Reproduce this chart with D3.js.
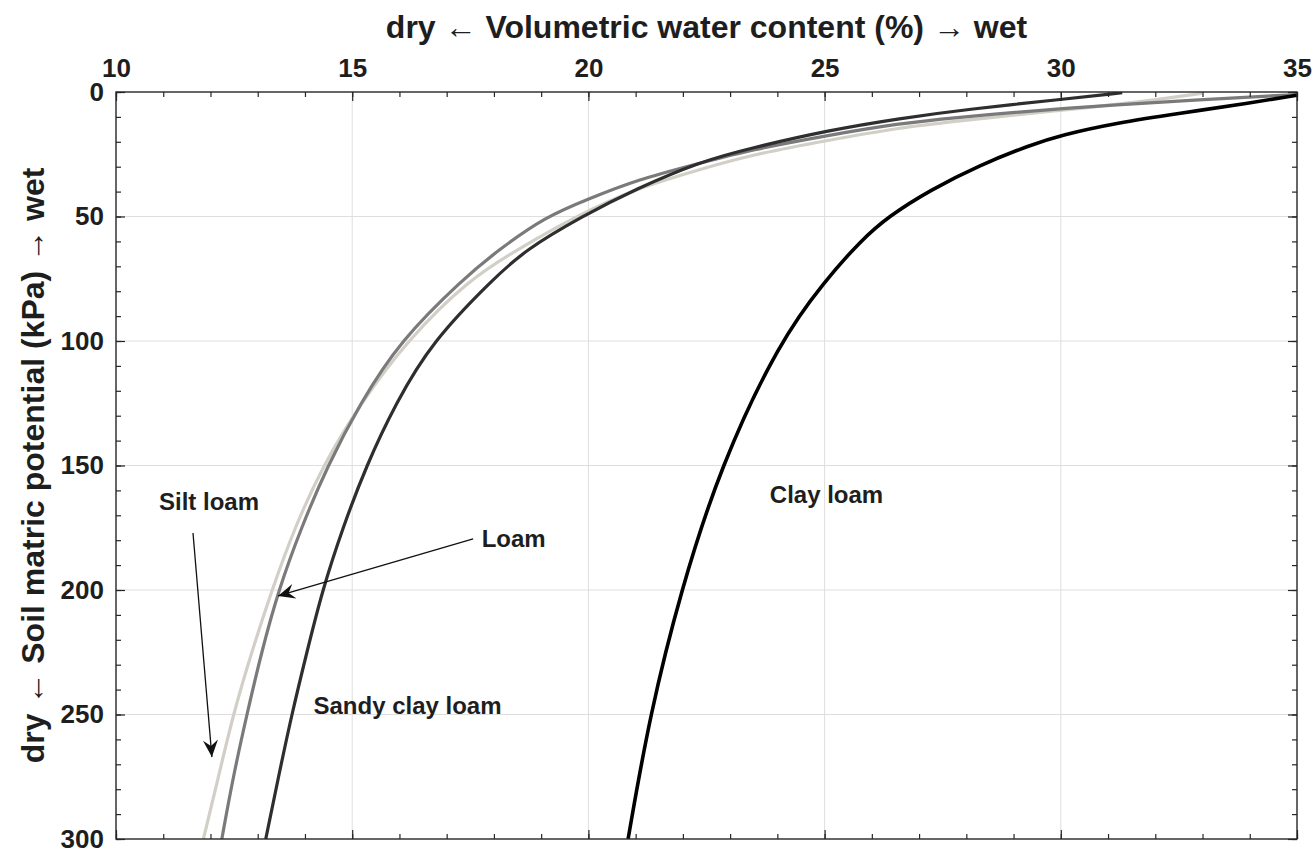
<!DOCTYPE html>
<html>
<head>
<meta charset="utf-8">
<script src="https://cdn.jsdelivr.net/npm/d3@7"></script>
<style>
  body { margin: 0; background: #fff; }
  text { font-family: "Liberation Sans", Arial, sans-serif; font-weight: bold; fill: #1e1e1e; }
  .grid line { stroke: #dedede; stroke-width: 1; }
  .axis path { display: none; }
  .axis line { stroke: #262626; stroke-width: 1.2; }
</style>
</head>
<body>
<svg id="chart"></svg>
<script>
// water content (%) and matric potential (kPa)
var siltLoamTheta = [11.85, 12.17, 12.48, 12.87, 13.30, 13.78, 14.38, 15.18, 16.15, 17.49, 18.48, 19.72, 21.02, 22.2, 23.42, 25.1, 26.6, 27.65, 30, 31.5, 33.0];
var siltLoamKPa   = [300, 275, 250, 225, 200, 175, 150, 125, 100, 75, 63.5, 50, 38.7, 32, 25.3, 19.3, 14.3, 12.0, 7.3, 4.5, 0.5];

var loamTheta = [12.24, 12.48, 12.77, 13.08, 13.44, 13.92, 14.48, 15.17, 16.01, 17.35, 18.09, 19.1, 20, 21.02, 22.36, 23.42, 25.1, 26.6, 27.65, 30, 33, 35];
var loamKPa   = [300, 275, 250, 225, 200, 175, 150, 125, 100, 75, 63.5, 50, 43.0, 35.3, 28.6, 23.3, 17.3, 12.6, 10.5, 6.5, 3.0, 1.0];

var sandyClayLoamTheta = [13.17, 13.44, 13.72, 14.04, 14.37, 14.80, 15.30, 15.92, 16.70, 17.99, 18.66, 19.86, 21.02, 22.36, 23.42, 25.1, 26.6, 28, 30, 31.3];
var sandyClayLoamKPa   = [300, 275, 250, 225, 200, 175, 150, 125, 100, 75, 63.5, 50, 38.8, 28, 22.6, 15.3, 10.6, 7.0, 3.0, 0.3];

var clayLoamTheta = [20.84, 21.30, 21.96, 22.8, 24.05, 25.0, 25.78, 26.35, 27.23, 28.29, 29.35, 30, 31.2, 32.5, 34, 35];
var clayLoamKPa   = [300, 250, 200, 150, 100, 76, 59.4, 50, 39.4, 29.3, 21.3, 17.3, 12.3, 8.6, 4.4, 1.3];

var soilNames  = ["Silt loam", "Loam", "Sandy clay loam", "Clay loam"];
var soilColors = ["#d2cfc7", "#7a7a7a", "#2e2e2e", "#000000"];

var xTicks = [10, 15, 20, 25, 30, 35];
var yTicks = [0, 50, 100, 150, 200, 250, 300];

// text labels and arrows, in data units
var labelTheta = [10.91, 17.74, 14.18, 23.84];
var labelKPa   = [167.9, 182.6, 249.8, 165.2];
var arrowFrom  = [[11.63, 177.1], [17.56, 179.5]];
var arrowTo    = [[12.03, 267.1], [13.43, 202.4]];

var width = 1313, height = 854;
var margin = {left: 116, top: 92, right: 16, bottom: 15};
var plotW = width - margin.left - margin.right;
var plotH = height - margin.top - margin.bottom;

var svg = d3.select("#chart").attr("width", width).attr("height", height);
var g = svg.append("g").attr("transform", "translate(" + margin.left + "," + margin.top + ")");

var x = d3.scaleLinear().domain([10, 35]).range([0, plotW]);
var y = d3.scaleLinear().domain([0, 300]).range([0, plotH]);

// gridlines
var grid = g.append("g").attr("class", "grid");
grid.selectAll(".gx").data(xTicks.slice(1, -1)).enter().append("line")
  .attr("x1", d => x(d)).attr("x2", d => x(d)).attr("y1", 0).attr("y2", plotH);
grid.selectAll(".gy").data(yTicks.slice(1, -1)).enter().append("line")
  .attr("y1", d => y(d)).attr("y2", d => y(d)).attr("x1", 0).attr("x2", plotW);

// curves
var soils = [
  {name: soilNames[0], theta: siltLoamTheta, kpa: siltLoamKPa, color: soilColors[0], w: 3.2},
  {name: soilNames[1], theta: loamTheta, kpa: loamKPa, color: soilColors[1], w: 3.2},
  {name: soilNames[2], theta: sandyClayLoamTheta, kpa: sandyClayLoamKPa, color: soilColors[2], w: 3.2},
  {name: soilNames[3], theta: clayLoamTheta, kpa: clayLoamKPa, color: soilColors[3], w: 3.6}
];

var defs = svg.append("defs");
defs.append("clipPath").attr("id", "clip")
  .append("rect").attr("width", plotW).attr("height", plotH);

// basis spline smooths out reading noise between the picked points
var line = d3.line()
  .x(d => x(d[0]))
  .y(d => y(d[1]))
  .curve(d3.curveBasis);

g.append("g").attr("clip-path", "url(#clip)")
  .selectAll("path").data(soils).enter().append("path")
  .attr("fill", "none")
  .attr("stroke", d => d.color)
  .attr("stroke-width", d => d.w)
  .attr("d", d => line(d.theta.map((t, i) => [t, d.kpa[i]])));

// axes, ticks pointing inward on all four sides
function minor(axis) {
  return axis.tickSizeInner(-5).tickSizeOuter(0).tickFormat("");
}
g.append("g").attr("class", "axis")
  .call(minor(d3.axisTop(x).tickValues(d3.range(10, 36, 1))));
g.append("g").attr("class", "axis").attr("transform", "translate(0," + plotH + ")")
  .call(minor(d3.axisBottom(x).tickValues(d3.range(10, 36, 1))));
g.append("g").attr("class", "axis")
  .call(minor(d3.axisLeft(y).tickValues(d3.range(0, 301, 10))));
g.append("g").attr("class", "axis").attr("transform", "translate(" + plotW + ",0)")
  .call(minor(d3.axisRight(y).tickValues(d3.range(0, 301, 10))));

var topAxis = g.append("g").attr("class", "axis")
  .call(d3.axisTop(x).tickValues(xTicks).tickSizeInner(-9).tickSizeOuter(0).tickPadding(15).tickFormat(d3.format("d")));
g.append("g").attr("class", "axis").attr("transform", "translate(0," + plotH + ")")
  .call(d3.axisBottom(x).tickValues(xTicks).tickSizeInner(-9).tickSizeOuter(0).tickFormat(""));
var leftAxis = g.append("g").attr("class", "axis")
  .call(d3.axisLeft(y).tickValues(yTicks).tickSizeInner(-9).tickSizeOuter(0).tickPadding(12).tickFormat(d3.format("d")));
g.append("g").attr("class", "axis").attr("transform", "translate(" + plotW + ",0)")
  .call(d3.axisRight(y).tickValues(yTicks).tickSizeInner(-9).tickSizeOuter(0).tickFormat(""));

topAxis.selectAll("text").attr("font-size", 26).attr("fill", "#1e1e1e");
leftAxis.selectAll("text").attr("font-size", 26).attr("fill", "#1e1e1e");

// frame
g.append("rect").attr("width", plotW).attr("height", plotH)
  .attr("fill", "none").attr("stroke", "#262626").attr("stroke-width", 1.4);

// axis titles
svg.append("text")
  .attr("x", margin.left + plotW / 2).attr("y", 38)
  .attr("text-anchor", "middle").attr("font-size", 32)
  .text("dry \u2190 Volumetric water content (%) \u2192 wet");

svg.append("text")
  .attr("transform", "translate(44," + (margin.top + plotH / 2) + ") rotate(-90)")
  .attr("text-anchor", "middle").attr("font-size", 32)
  .text("dry \u2190 Soil matric potential (kPa) \u2192 wet");

// soil labels
g.selectAll(".soil-label").data(soilNames).enter().append("text")
  .attr("class", "soil-label")
  .attr("x", (d, i) => x(labelTheta[i]))
  .attr("y", (d, i) => y(labelKPa[i]))
  .attr("font-size", 24)
  .text(d => d);

// arrows
defs.append("marker")
  .attr("id", "head").attr("viewBox", "-18 -9 20 18")
  .attr("markerWidth", 20).attr("markerHeight", 18)
  .attr("markerUnits", "userSpaceOnUse")
  .attr("refX", 0).attr("refY", 0).attr("orient", "auto")
  .append("path").attr("d", "M0,0 L-17,-7.5 L-11,0 L-17,7.5 Z").attr("fill", "#111");

g.selectAll(".arrow").data(arrowFrom).enter().append("line")
  .attr("class", "arrow")
  .attr("x1", d => x(d[0])).attr("y1", d => y(d[1]))
  .attr("x2", (d, i) => x(arrowTo[i][0])).attr("y2", (d, i) => y(arrowTo[i][1]))
  .attr("stroke", "#111").attr("stroke-width", 1.3)
  .attr("marker-end", "url(#head)");
</script>
</body>
</html>
